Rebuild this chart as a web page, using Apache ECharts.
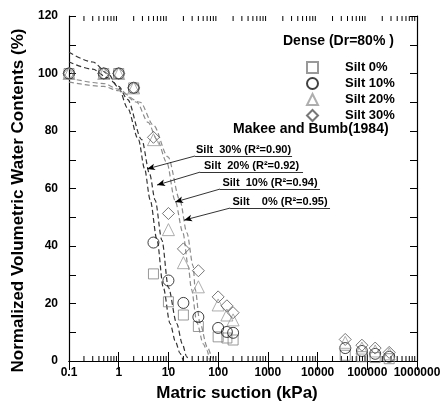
<!DOCTYPE html>
<html>
<head>
<meta charset="utf-8">
<script src="https://cdn.jsdelivr.net/npm/echarts@6/dist/echarts.min.js"></script>
<style>
  html, body { margin: 0; padding: 0; background: #fff; }
  #chart { width: 441px; height: 403px; }
</style>
</head>
<body>
<div id="chart"></div>
<script>
// Matric suction (kPa) at which each sample was measured
const suction = [0.1, 0.5, 1, 2, 5, 10, 20, 40, 100, 150, 200, 36000, 78000, 144000, 276000];

// Normalized volumetric water content (%) for each silt fraction
const silt0  = [100, 100, 100, 95, 30.3, 20.6, 16.0, 12.0, 8.4, 8.0, 7.3, 2.0, 1.5, 1.2, 0.8];
const silt10 = [100, 100, 100, 95, 41.2, 28.0, 20.2, 15.3, 11.5, 10.1, 9.8, 4.5, 3.5, 2.5, 1.5];
const silt20 = [100, 100, 100, 95, 77.0, 45.7, 34.2, 25.8, 19.5, 16.0, 14.3, 6.5, 4.5, 3.5, 2.5];
const silt30 = [100, 100, 100, 95, 77.8, 51.3, 39.0, 31.4, 22.3, 19.2, 16.8, 7.5, 5.5, 4.5, 3.0];

// Fitted curves (suction kPa, water content %)
const fit30 = [[0.1,107.4],[0.3,104],[0.6,100],[1,95],[1.5,88],[2.5,77],[3.3,67],[4.3,56],[5.9,42],[7.9,25.5],[10.8,13],[14,6.5],[17.1,2.7],[19.9,0]];
const fit20 = [[0.1,104],[0.3,101.5],[0.6,98.5],[1,95.5],[1.5,91],[2.9,77],[4.2,65],[5.4,56],[7.4,42],[10,25.5],[14.7,13],[19,6],[23.3,1.5],[25.5,0]];
const fit10 = [[0.1,98.4],[0.5,96.5],[1,94.5],[2.3,90],[3.9,83],[5.9,77],[9.3,69],[13.5,56],[19.6,44.6],[25,33],[29,25],[37.5,13.3],[50,6],[59,3.8],[68,0]];
const fit0  = [[0.1,97],[0.5,95.5],[1,94],[2.7,90],[5,82],[9.8,71],[17,56],[23.5,44.6],[31.5,33],[34.5,25],[43,13.3],[60,5],[76,1.4],[80,0]];

// Curve annotations: label, underline (from, to suction; level %), arrow tip
const fitLabels = ['Silt  30% (R\u00B2=0.90)', 'Silt  20% (R\u00B2=0.92)', 'Silt  10% (R\u00B2=0.94)', 'Silt    0% (R\u00B2=0.95)'];
const underlineFrom = [34.3, 43.3, 109, 174];
const underlineTo = [3070, 5100, 11200, 17800];
const underlineLevel = [71.3, 65.7, 59.8, 53.2];
const arrowTip = [[3.71, 66.8], [5.9, 61.2], [13.6, 55.3], [20.6, 49]];

// Axis tick labels
const xTickLabels = ['0.1', '1', '10', '100', '1000', '10000', '100000', '1000000'];
const yTickLabels = ['0', '20', '40', '60', '80', '100', '120'];

// Minor tick positions on the log axis (2..9 in every decade)
const minorTicks = [];
for (let e = -1; e <= 5; e++) {
  for (let m = 2; m <= 9; m++) minorTicks.push(m * Math.pow(10, e));
}

const FONT = 'Liberation Sans, Arial, sans-serif';
const chart = echarts.init(document.getElementById('chart'), null, { renderer: 'canvas' });

function annotation(i) {
  const y = underlineLevel[i];
  return [
    [
      { coord: [underlineFrom[i], y], symbol: 'none',
        label: { show: true, formatter: fitLabels[i], position: 'insideMiddleTop', distance: 1,
                 color: '#000', fontFamily: FONT, fontWeight: 'bold', fontSize: 11 } },
      { coord: [underlineTo[i], y], symbol: 'none' }
    ],
    [
      { coord: [underlineFrom[i], y], symbol: 'none', label: { show: false } },
      { coord: arrowTip[i], symbol: 'arrow', symbolSize: [5, 8], label: { show: false } }
    ]
  ];
}

function fitSeries(data, color, idx) {
  return {
    type: 'line',
    data: data,
    xAxisIndex: 0, yAxisIndex: 0,
    showSymbol: false,
    smooth: 0.3,
    smoothMonotone: 'x',
    silent: true,
    clip: true,
    lineStyle: { color: color, width: 1.2, type: [5, 3] },
    z: 2,
    markLine: {
      silent: true,
      symbol: ['none', 'none'],
      lineStyle: { color: '#000', width: 0.8, type: 'solid' },
      data: annotation(idx)
    }
  };
}

function scatterSeries(name, values, symbol, size, color) {
  return {
    type: 'scatter',
    name: name,
    data: suction.map((s, i) => [s, values[i]]),
    symbol: symbol,
    symbolSize: size,
    clip: false,
    itemStyle: { color: 'rgba(255,255,255,0)', borderColor: color, borderWidth: 1 },
    z: 3
  };
}

const option = {
  backgroundColor: '#fff',
  animation: false,
  grid: { left: 69, right: 24, top: 16, bottom: 42, containLabel: false, outerBoundsMode: 'none' },
  xAxis: [
    {
      type: 'log', logBase: 10, min: 0.1, max: 1000000, interval: 1,
      position: 'bottom',
      name: 'Matric suction (kPa)', nameLocation: 'middle', nameGap: 24,
      nameTextStyle: { fontFamily: FONT, fontWeight: 'bold', fontSize: 17, color: '#000', padding: [0, 12, 0, 0] },
      axisLine: { lineStyle: { color: '#000', width: 1.2 } },
      axisTick: { inside: true, length: 9, lineStyle: { color: '#000', width: 1 } },
      axisLabel: {
        margin: 6, color: '#000', fontFamily: FONT, fontWeight: 'bold', fontSize: 12,
        formatter: v => xTickLabels[Math.round(Math.log10(v)) + 1]
      },
      splitLine: { show: false }
    },
    {
      type: 'log', logBase: 10, min: 0.1, max: 1000000, interval: 1,
      position: 'top',
      axisLine: { lineStyle: { color: '#000', width: 1.2 } },
      axisTick: { inside: true, length: 9, lineStyle: { color: '#000', width: 1 } },
      axisLabel: { show: false },
      splitLine: { show: false }
    }
  ],
  yAxis: [
    {
      type: 'value', min: 0, max: 120, interval: 10,
      position: 'left',
      name: 'Normalized Volumetric Water Contents (%)', nameLocation: 'middle', nameGap: 42,
      nameTextStyle: { fontFamily: FONT, fontWeight: 'bold', fontSize: 17, color: '#000', padding: [0, 24, 0, 0] },
      axisLine: { show: true, lineStyle: { color: '#000', width: 1.2 } },
      axisTick: { show: true, inside: true, length: 7, lineStyle: { color: '#000', width: 1 } },
      axisLabel: {
        margin: 11, color: '#000', fontFamily: FONT, fontWeight: 'bold', fontSize: 12,
        formatter: v => (v % 20 === 0 ? yTickLabels[v / 20] : '')
      },
      splitLine: { show: false }
    },
    {
      type: 'value', min: 0, max: 120, interval: 10,
      position: 'right',
      axisLine: { show: true, lineStyle: { color: '#000', width: 1.2 } },
      axisTick: { show: true, inside: true, length: 7, lineStyle: { color: '#000', width: 1 } },
      axisLabel: { show: false },
      splitLine: { show: false }
    }
  ],
  legend: {
    orient: 'vertical',
    left: 306, top: 61,
    padding: 0,
    itemWidth: 11, itemHeight: 11, itemGap: 3,
    data: ['Silt 0%', 'Silt 10%', 'Silt 20%', 'Silt 30%'],
    textStyle: { fontFamily: FONT, fontWeight: 'bold', fontSize: 13, lineHeight: 11, color: '#000', padding: [0, 0, 0, 22] },
    selectedMode: false
  },
  graphic: [
    { type: 'text', left: 283, top: 34,
      style: { text: 'Dense (Dr=80% )', font: 'bold 14px ' + FONT, fill: '#000' } },
    { type: 'text', left: 233, top: 122,
      style: { text: 'Makee and Bumb(1984)', font: 'bold 14px ' + FONT, fill: '#000' } }
  ],
  series: [
    {
      type: 'custom',
      silent: true,
      data: minorTicks.map(v => [v, 0]),
      renderItem: function (params, api) {
        const v = api.value(0);
        const b = api.coord([v, 0]);
        const t = api.coord([v, 120]);
        const st = { stroke: '#000', lineWidth: 1 };
        return {
          type: 'group',
          children: [
            { type: 'line', shape: { x1: b[0], y1: b[1], x2: b[0], y2: b[1] - 5 }, style: st },
            { type: 'line', shape: { x1: t[0], y1: t[1], x2: t[0], y2: t[1] + 5 }, style: st }
          ]
        };
      },
      z: 1
    },
    fitSeries(fit30, '#333', 0),
    fitSeries(fit20, '#333', 1),
    fitSeries(fit10, '#8c8c8c', 2),
    fitSeries(fit0, '#8c8c8c', 3),
    scatterSeries('Silt 0%', silt0, 'rect', 10, '#808080'),
    scatterSeries('Silt 10%', silt10, 'circle', 11, '#111'),
    scatterSeries('Silt 20%', silt20, 'triangle', 12, '#9a9a9a'),
    scatterSeries('Silt 30%', silt30, 'diamond', 12, '#555')
  ]
};

chart.setOption(option);
</script>
</body>
</html>
